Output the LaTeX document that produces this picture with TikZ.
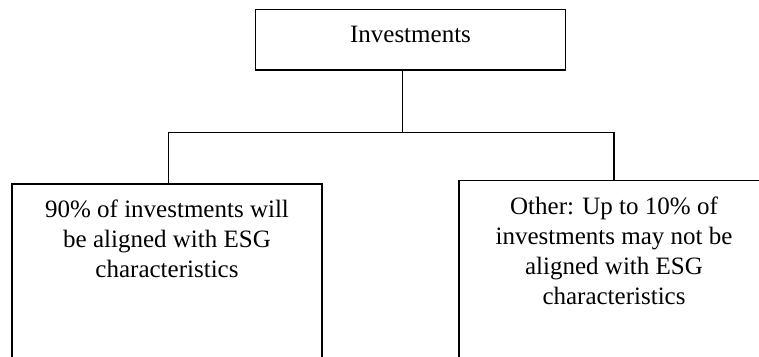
\documentclass[tikz,border=0pt]{standalone}
\usepackage{fontspec}
\setmainfont{Liberation Serif}
\usepackage{tikz}
\usetikzlibrary{positioning}

\begin{document}
\begin{tikzpicture}[
x=1bp, y=-1bp,
boxnode/.style={rectangle, draw=black, line width=1.2bp, inner sep=0pt, minimum width=310bp},
textnode/.style={rectangle, align=center, inner sep=0pt, font=\fontsize{25.1}{30.2}\selectfont},
linkline/.style={draw=black, line width=1.2bp},
]
\useasboundingbox (0,0) rectangle (759,356);
\clip (0,0) rectangle (759,356);

%Nodes
\node[boxnode, minimum height=60.7bp]              (invest)   at (410.5,39.65)      {};
\node[boxnode, minimum height=220bp, anchor=north] (aligned)  at (167,183.3)        {};
\node[boxnode, minimum height=220bp, anchor=north] (other)    at (614,180)          {};

\node[textnode]      (investtext)      [below=17.4bp of invest.north]   {Investments};
\node[textnode]      (alignedtext)     [below=16.4bp of aligned.north]  {90\% of investments will\\be aligned with ESG\\characteristics};
\node[textnode]      (othertext)       [below=16.2bp of other.north]    {Other: Up to 10\% of\\investments may not be\\aligned with ESG\\characteristics};

%Lines
\draw[linkline] ([xshift=-7.8bp]invest.south) -- ++(0,61.7) coordinate (fork);
\draw[linkline] (fork) -| ([xshift=1.3bp]aligned.north);
\draw[linkline] (fork) -| (other.north);
\end{tikzpicture}
\end{document}
